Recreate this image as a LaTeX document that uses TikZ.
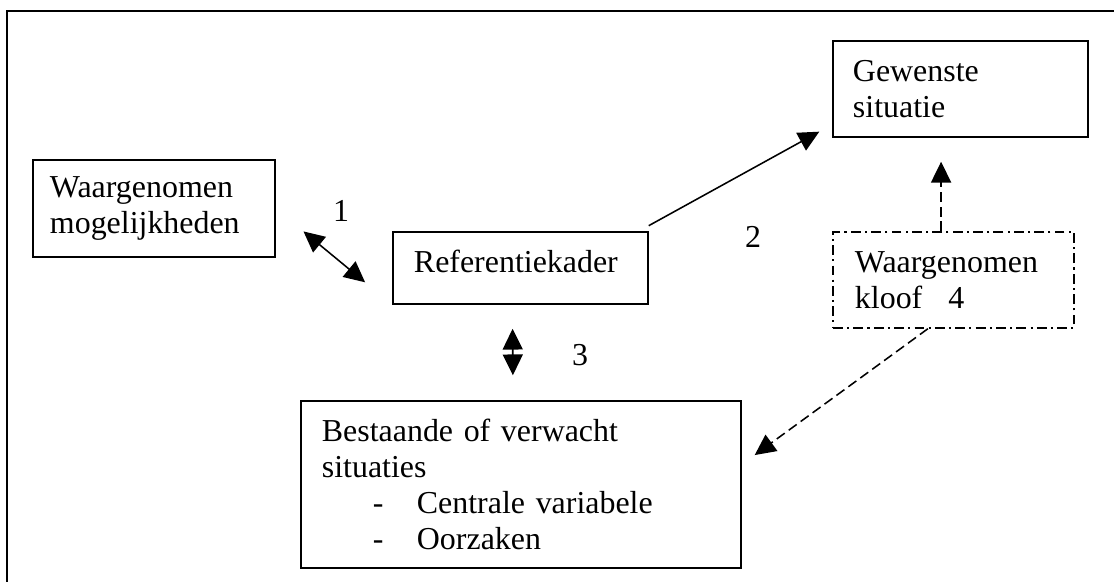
\documentclass[tikz,border=0pt]{standalone}
\usepackage{fontspec}
\setmainfont{Liberation Serif}
\usetikzlibrary{arrows.meta}
\usetikzlibrary{calc}

\tikzset{
    KaderTekst/.style={font=\fontsize{22.7pt}{25.6pt}\selectfont},
    Kader/.style={draw, line width=1pt, rectangle, KaderTekst, align=left, inner ysep=0pt},
    StreepPuntKader/.style={Kader, dash pattern=on 7pt off 3pt on 1.5pt off 3pt},
    Pijl/.style={line width=1.1pt, -{Triangle[length=0.52cm, width=0.5cm]}},
    TweePijl/.style={line width=1.1pt, {Triangle[length=0.52cm, width=0.5cm]}-{Triangle[length=0.52cm, width=0.5cm]}},
    StippelPijl/.style={Pijl, dash pattern=on 7pt off 3.5pt},
}

\begin{document}
\begin{tikzpicture}[x=0.025cm, y=-0.025cm]

    \clip (0, 0) rectangle (1114, 581);

    % Omlijsting

    \draw[line width=1.6pt] (7, 600) -- (7, 11) -- (1130, 11);

    % Kaders

    \node[Kader, minimum width=6.05cm, minimum height=2.425cm, inner xsep=0.425cm, text width=5.2cm]
    (kaderMogelijkheden) at (154, 208.5) {Waargenomen\\mogelijkheden};
    \node[Kader, minimum width=6.375cm, minimum height=1.8cm, inner xsep=0.525cm, text width=5.325cm, text depth=0.34cm]
    (kaderReferentie) at (520.5, 268) {Referentiekader};
    \node[Kader, minimum width=6.375cm, minimum height=2.4cm, inner xsep=0.5cm, text width=5.375cm]
    (kaderGewenst) at (960.5, 89) {Gewenste\\situatie};
    \node[StreepPuntKader, minimum width=6.025cm, minimum height=2.4cm, inner xsep=0.55cm, text width=4.925cm]
    (kaderKloof) at (953.5, 280) {Waargenomen\\kloof\hspace{0.65cm}4};
    \node[Kader, minimum width=11cm, minimum height=4.175cm, inner xsep=0.525cm, text width=9.95cm]
    (kaderBestaand) at (521, 484.5) {Bestaande of verwacht\\situaties\\
        \hspace*{1.275cm}\makebox[1.1cm][l]{-}Centrale variabele\\
        \hspace*{1.275cm}\makebox[1.1cm][l]{-}Oorzaken};

    % Pijlen

    \draw[TweePijl, shorten <=0.9cm, shorten >=0.88cm] (kaderMogelijkheden.east) -- (kaderReferentie.south west);
    \draw[Pijl, shorten >=0.37cm] ([yshift=0.14cm]kaderReferentie.north east) -- ([yshift=0.33cm]kaderGewenst.south west);
    \draw[TweePijl, shorten <=0.6cm, shorten >=0.625cm] ([xshift=-0.2cm]kaderReferentie.south) -- ([xshift=-0.2cm]kaderBestaand.north);

    \coordinate (kloofBoven) at ([xshift=-0.31cm]kaderKloof.north);
    \draw[StippelPijl, shorten >=0.6cm] (kloofBoven) -- (kloofBoven |- kaderGewenst.south);
    \draw[StippelPijl, shorten >=0.4cm] ([xshift=-0.64cm]kaderKloof.south) -- ([yshift=0.5cm]kaderBestaand.east);

    % Nummers

    \node[KaderTekst] (nummerEen) at (341, 211) {1};
    \node[KaderTekst] (nummerTwee) at (753, 237) {2};
    \node[KaderTekst] (nummerDrie) at (580, 355) {3};

\end{tikzpicture}
\end{document}
